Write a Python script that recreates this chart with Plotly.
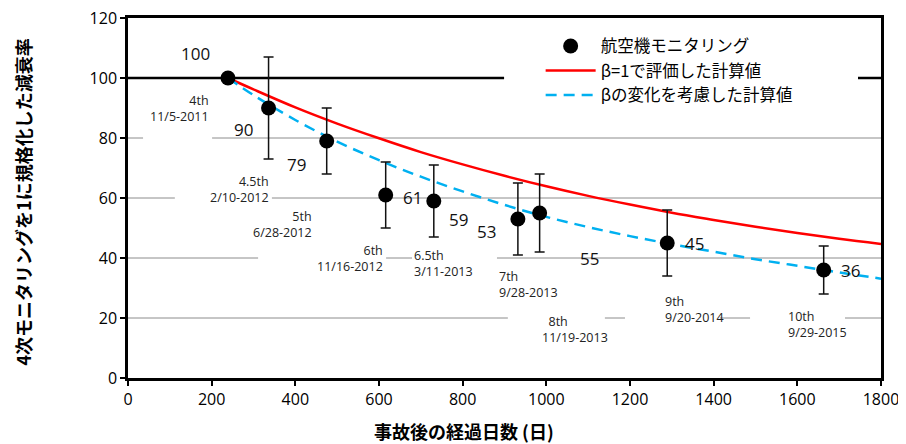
import plotly.graph_objects as go

# monitoring results (days after accident, normalised dose rate)
days = [239, 336, 475, 616, 731, 932, 984, 1289, 1663]
ratio = [100, 90, 79, 61, 59, 53, 55, 45, 36]
err_hi = [100, 107, 90, 72, 71, 65, 68, 56, 44]
err_lo = [100, 73, 68, 50, 47, 41, 42, 34, 28]
rounds = ["4th<br>11/5-2011", "4.5th<br>2/10-2012", "5th<br>6/28-2012", "6th<br>11/16-2012",
          "6.5th<br>3/11-2013", "7th<br>9/28-2013", "&nbsp;&nbsp;8th<br>11/19-2013",
          "9th<br>9/20-2014", "10th<br>9/29-2015"]

# calculated curves
calc_days = [239, 300, 400, 500, 600, 700, 800, 900, 1000, 1100, 1200, 1300, 1400, 1500, 1600, 1700, 1800]
calc_beta1 = [100, 96.2, 90.2, 84.8, 79.9, 75.3, 71.2, 67.4, 63.9, 60.7, 57.8, 55.1, 52.7, 50.4, 48.3, 46.4, 44.7]
calc_beta_var = [100, 94.3, 86.0, 78.8, 72.6, 67.1, 62.2, 57.7, 53.7, 50.3, 47.3, 44.6, 42.1, 39.6, 37.4, 35.2, 33.1]

names = ["航空機モニタリング", "β=1で評価した計算値", "βの変化を考慮した計算値"]
x_title = "事故後の経過日数 (日)"
y_title = "4次モニタリングを1に規格化した減衰率"

JP = "Noto Sans CJK JP"
NUM = "Open Sans"

fig = go.Figure()

fig.add_trace(go.Scatter(
    x=calc_days, y=calc_beta1, mode="lines", name=names[1], legendrank=2,
    line=dict(color="#FF0000", width=2.5, shape="spline"),
))
fig.add_trace(go.Scatter(
    x=calc_days, y=calc_beta_var, mode="lines", name=names[2], legendrank=3,
    line=dict(color="#00B0F0", width=2.5, dash="11px,7px", shape="spline"),
))
fig.add_trace(go.Scatter(
    x=days, y=ratio, mode="markers", name=names[0], legendrank=1,
    marker=dict(color="black", size=15),
    error_y=dict(
        type="data", symmetric=False,
        array=[h - v for h, v in zip(err_hi, ratio)],
        arrayminus=[v - l for l, v in zip(err_lo, ratio)],
        color="#111111", thickness=1.5, width=5,
    ),
))

# broken gridlines (gaps behind the date labels)
grid_segments = {
    80: [(0, 36), (201, 1800)],
    60: [(0, 112), (344, 1800)],
    40: [(0, 311), (617, 679), (882, 1800)],
    20: [(0, 908), (1140, 1188), (1415, 1487), (1714, 1800)],
}
shapes = []
for yv, segs in grid_segments.items():
    for x0, x1 in segs:
        shapes.append(dict(type="line", xref="x", yref="y", x0=x0, x1=x1, y0=yv, y1=yv,
                           line=dict(color="#8C8C8C", width=1), layer="below"))
for x0, x1 in [(0, 899), (1745, 1800)]:
    shapes.append(dict(type="line", xref="x", yref="y", x0=x0, x1=x1, y0=100, y1=100,
                       line=dict(color="black", width=2.5), layer="below"))

annotations = []
# value labels
value_pos = [(162, 108.3), (275, 83), (402, 71.3), (679, 60.3), (791, 52.7),
             (856, 48.7), (1104, 39.7), (1353, 44.7), (1726, 35.7)]
for v, (px, py) in zip(ratio, value_pos):
    annotations.append(dict(x=px, y=py, xref="x", yref="y", text=str(v), showarrow=False,
                            font=dict(family=NUM, size=17, color="#111111")))
# round / date labels
round_pos = [(198, 90, "right"), (342, 62.7, "right"), (445, 51.3, "right"), (614, 39.7, "right"),
             (679, 38.3, "left"), (882, 31.3, "left"), (985, 16.3, "left"), (1279, 22.7, "left"),
             (1573, 18, "left")]
for t, (px, py, side) in zip(rounds, round_pos):
    annotations.append(dict(x=px, y=py, xref="x", yref="y", text=t, showarrow=False,
                            xanchor=side, align=side, yanchor="middle",
                            font=dict(family=NUM, size=12.5, color="#222222")))

# axis titles placed by hand (x title sits left of centre in the original)
title_font = dict(family=JP, size=18, color="black", weight="bold")
annotations.append(dict(x=0.446, y=-0.148, xref="paper", yref="paper", text=x_title,
                        showarrow=False, font=title_font, xanchor="center", yanchor="middle"))
annotations.append(dict(x=-0.14, y=0.489, xref="paper", yref="paper", text=y_title,
                        showarrow=False, font=title_font, textangle=-90,
                        xanchor="center", yanchor="middle"))

# page body has an 8px margin, so the figure is 8px smaller than the window
fig.update_layout(
    width=898, height=436,
    margin=dict(l=120, r=25, t=10, b=66),
    paper_bgcolor="white", plot_bgcolor="white",
    shapes=shapes, annotations=annotations,
    showlegend=True,
    legend=dict(
        x=0.548, y=0.97, xanchor="left", yanchor="top",
        bgcolor="white", borderwidth=0,
        font=dict(family=JP, size=16.5, color="black"),
        itemwidth=50, tracegroupgap=0,
    ),
    xaxis=dict(
        range=[0, 1800], dtick=200, showgrid=False, zeroline=False, automargin=False,
        showline=True, linecolor="black", linewidth=2.5, mirror=True,
        ticks="outside", ticklen=5, tickcolor="black", tickwidth=2,
        ticklabeloverflow="allow",
        tickfont=dict(family=NUM, size=16, color="black"),
    ),
    yaxis=dict(
        range=[0, 120], dtick=20, showgrid=False, zeroline=False, automargin=False,
        showline=True, linecolor="black", linewidth=2.5, mirror=True,
        ticks="outside", ticklen=5, tickcolor="black", tickwidth=2,
        ticklabeloverflow="allow",
        tickfont=dict(family=NUM, size=16, color="black"),
    ),
)

fig.write_html("out.html")
